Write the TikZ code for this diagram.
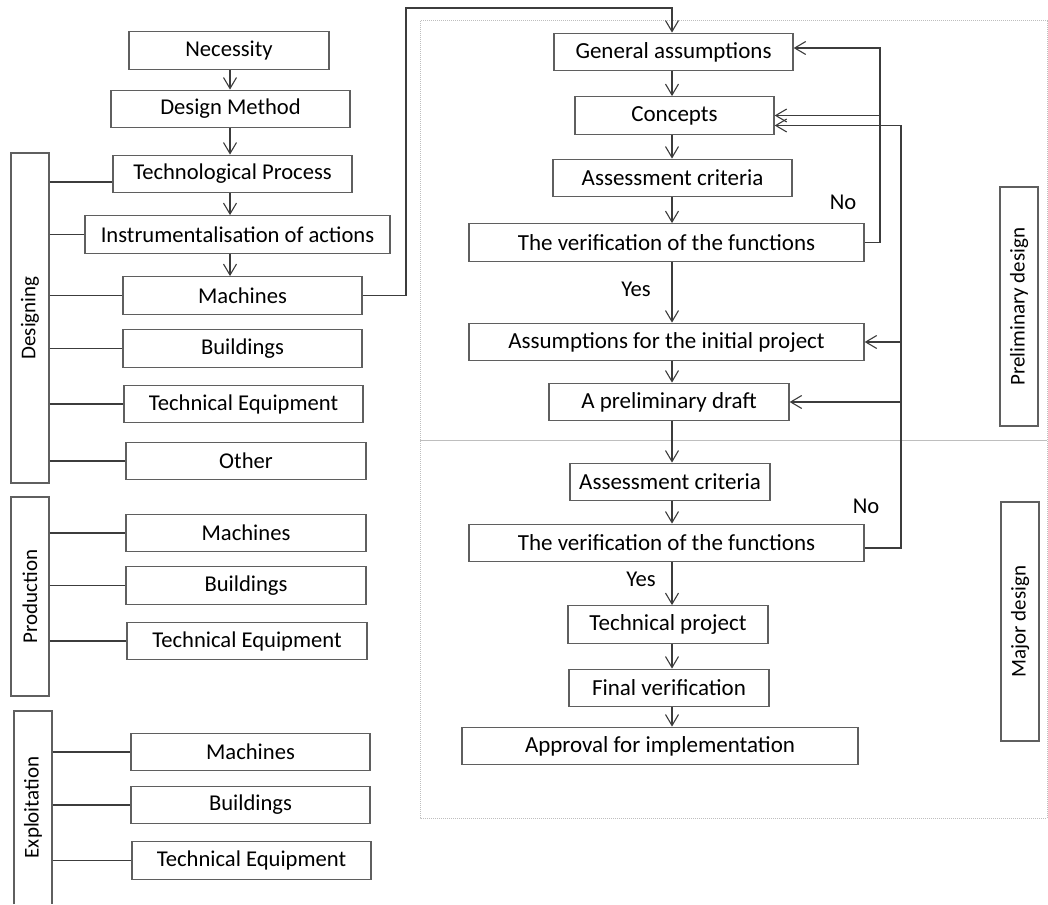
\documentclass[tikz,border=0pt]{standalone}
\usepackage{fontspec}
\setmainfont{Carlito}
\usetikzlibrary{arrows.meta}
\definecolor{linegray}{RGB}{60,60,60}
\definecolor{boxgray}{RGB}{95,95,95}
\definecolor{framegray}{RGB}{190,190,190}

\begin{document}
\begin{tikzpicture}[x=1pt,y=-1pt,
    box/.style={draw=boxgray, line width=1.3pt, minimum height=37.5pt, inner sep=0pt, font=\fontsize{22.6}{26}\selectfont},
    rbox/.style={box, font=\fontsize{23}{27}\selectfont},
    vbox/.style={box, rotate=90, minimum height=38pt, font=\fontsize{21}{25}\selectfont},
    link/.style={draw=linegray, line width=1.3pt},
    arr/.style={link, -{Straight Barb[length=11pt,width=13pt,line width=1.1pt]}},
    lbl/.style={inner sep=0pt, font=\fontsize{22.6}{26}\selectfont}]
      \useasboundingbox (0,0) rectangle (1048,904);

      % frame of the right part
      \draw [framegray, densely dotted, line width=1pt] (420,21) rectangle (1047,818);
      \draw [framegray, line width=1pt] (420,440) -- (1047,440);

      % left column
      \node [box, minimum width=200pt] (nec) at (229,50.5) {Necessity};
      \node [box, minimum width=239pt] (dm) at (230.5,109) {Design Method};
      \node [box, minimum width=239pt] (tp) at (232.5,174) {Technological Process};
      \node [box, minimum width=305pt] (ins) at (237.5,234.5) {Instrumentalisation of actions};
      \node [box, minimum width=239pt] (dmac) at (242.5,295.5) {Machines};
      \node [box, minimum width=239pt] (dbld) at (242.5,348.5) {Buildings};
      \node [box, minimum width=239pt] (dteq) at (243.5,404) {Technical Equipment};
      \node [box, minimum width=240pt] (doth) at (246,461) {Other};
      \node [box, minimum width=240pt] (pmac) at (246,533) {Machines};
      \node [box, minimum width=240pt] (pbld) at (246,585.5) {Buildings};
      \node [box, minimum width=240pt] (pteq) at (247,641) {Technical Equipment};
      \node [box, minimum width=239pt] (emac) at (250.5,752) {Machines};
      \node [box, minimum width=239pt] (ebld) at (250.5,805) {Buildings};
      \node [box, minimum width=239pt] (eteq) at (251.5,860.5) {Technical Equipment};

      \node [vbox, minimum width=330pt] (des) at (30,318) {Designing};
      \node [vbox, minimum width=199pt] (prod) at (30,596.5) {Production};
      \node [vbox, draw=none, minimum width=193pt] (expl) at (33,807.5) {Exploitation};
      \draw [boxgray, line width=1.3pt] (14,904) |- (52,711) -- (52,904);

      \coordinate (lx) at (230,0);
      \foreach \a/\b in {nec/dm,dm/tp,tp/ins,ins/dmac}
        \draw [arr] (\a.south -| lx) -- (\b.north -| lx);

      \coordinate (tpjoin) at ([yshift=-8pt]tp.west);
      \draw [link] (tpjoin -| des.south) -- (tpjoin);
      \foreach \b in {ins,dmac,dbld,dteq,doth}
        \draw [link] (des.south |- \b.west) -- (\b.west);
      \foreach \b in {pmac,pbld,pteq}
        \draw [link] (prod.south |- \b.west) -- (\b.west);
      \foreach \b in {emac,ebld,eteq}
        \draw [link] (expl.south |- \b.west) -- (\b.west);

      % right column
      \node [rbox, minimum width=239pt] (ga) at (673.5,52) {General assumptions};
      \node [rbox, minimum width=199pt] (con) at (674.5,115.5) {Concepts};
      \node [rbox, minimum width=239pt] (ac) at (672.5,178) {Assessment criteria};
      \node [rbox, minimum width=395pt] (ver) at (666.5,242.5) {The verification of the functions};
      \node [rbox, minimum width=395pt] (aip) at (666.5,342) {Assumptions for the initial project};
      \node [rbox, minimum width=240pt] (pd) at (669,402) {A preliminary draft};
      \node [rbox, minimum width=200pt] (acm) at (670,482) {Assessment criteria};
      \node [rbox, minimum width=395pt] (verm) at (666.5,543) {The verification of the functions};
      \node [rbox, minimum width=200pt] (tpj) at (668,624.5) {Technical project};
      \node [rbox, minimum width=200pt] (fv) at (669,688) {Final verification};
      \node [rbox, minimum width=396pt] (apr) at (660,746) {Approval for implementation};

      \node [vbox, minimum width=239pt] (prel) at (1019,306.5) {Preliminary design};
      \node [vbox, minimum width=239pt] (major) at (1020,621.5) {Major design};

      \node [lbl] (no1) at (843,202) {No};
      \node [lbl] (yes1) at (636,289) {Yes};
      \node [lbl] (no2) at (866,506) {No};
      \node [lbl] (yes2) at (641,579) {Yes};

      \coordinate (rx) at (672,0);
      \foreach \a/\b in {ga/con,con/ac,ac/ver,ver/aip,aip/pd,pd/acm,acm/verm,verm/tpj,tpj/fv,fv/apr}
        \draw [arr] (\a.south -| rx) -- (\b.north -| rx);

      % from machines over the top
      \coordinate (over) at (406,8);
      \draw [arr] (dmac.east) -| (over) -| (ga.north -| rx);

      % feedback loops
      \coordinate (noA) at (880,48);
      \draw [arr] (ver.east) -| (noA) -- (noA -| ga.east);
      \draw [arr] (noA |- con.east) -- (con.east);
      \coordinate (conlow) at ([yshift=-10pt]con.east);
      \coordinate (noB) at (901,0);
      \draw [arr] ([yshift=-5pt]verm.east) -| (noB |- conlow) -- (conlow);
      \draw [arr] (noB |- aip.east) -- (aip.east);
      \draw [arr] (noB |- pd.east) -- (pd.east);
\end{tikzpicture}
\end{document}
